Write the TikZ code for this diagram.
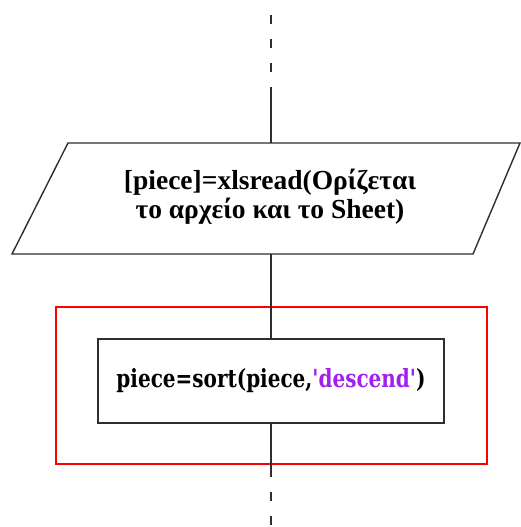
\documentclass[tikz,border=0pt]{standalone}
\usepackage{fontspec}
\setmainfont{Liberation Serif}
\newfontfamily\codefont[FakeStretch=0.8]{DejaVu Serif}
\usetikzlibrary{calc}
\definecolor{linegray}{HTML}{2E2E2E}
\definecolor{strpurple}{HTML}{A020F0}
\tikzset{
  flowline/.style={draw=linegray, line width=1.6pt},
  dashline/.style={draw=linegray, line width=1.6pt, dash pattern=on 9pt off 15pt},
  iobox/.style={draw=none, align=center,
    font=\fontsize{27.5}{29}\selectfont\bfseries, inner sep=0pt},
  procbox/.style={draw=linegray, line width=1.4pt, minimum width=346pt, minimum height=84pt,
    font=\codefont\fontsize{25}{28}\selectfont\bfseries, inner sep=0pt},
  highlight/.style={draw=red, line width=2pt}
}
\begin{document}
\begin{tikzpicture}[x=1pt, y=-1pt]
  \useasboundingbox (0,0) rectangle (520,527);
  % input/output step: parallelogram outline around a text node
  \draw[linegray, line width=1.4pt] (12,254) -- (68,143) -- (520,143) -- (473,254) -- cycle;
  \node[iobox] (read) at (270,197) {[piece]=xlsread(Ορίζεται\\το αρχείο και το Sheet)};
  % processing step
  \node[procbox] (sortstep) at (271,381) {};
  \node[font=\codefont\fontsize{25}{28}\selectfont\bfseries, inner sep=0pt, anchor=base]
    (sorttext) at (271,387) {piece=sort(piece,\textcolor{strpurple}{'descend'})};
  % highlight frame
  \node[highlight, minimum width=431pt, minimum height=157pt, inner sep=0pt] (frame) at (271.5,385.5) {};
  % connectors
  \coordinate (topend) at (271,15);
  \coordinate (topsolid) at (271,89);
  \coordinate (iotop) at (271,143);
  \coordinate (iobottom) at (271,254);
  \coordinate (botsolid) at (271,475);
  \coordinate (botend) at (271,527);
  \draw[dashline] (topend) -- (topsolid);
  \draw[flowline] (topsolid) -- (iotop);
  \draw[flowline] (iobottom) -- (sortstep.north);
  \draw[flowline] (sortstep.south) -- (botsolid);
  \draw[dashline, dash phase=-17pt] (botsolid) -- (botend);
\end{tikzpicture}
\end{document}
